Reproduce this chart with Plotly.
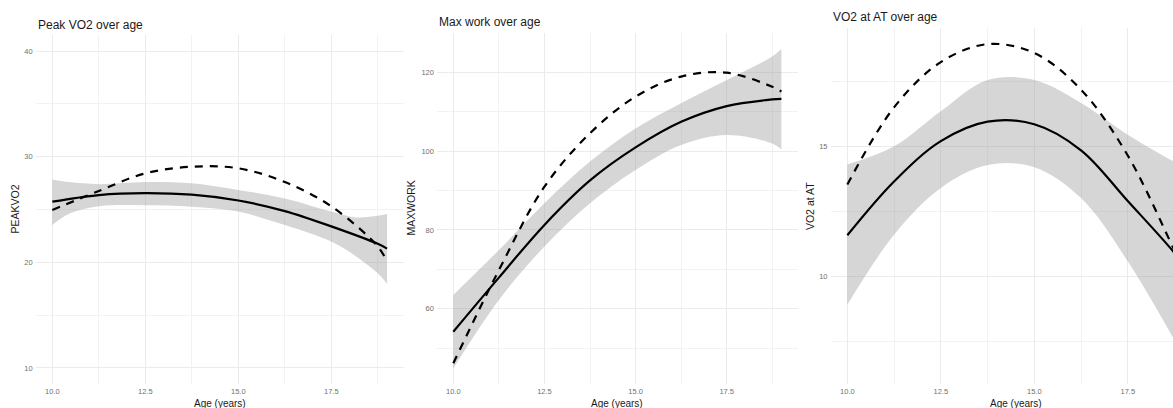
import plotly.graph_objects as go

W, H = 1173, 408

# ---------------- data ----------------
# Panel 1: Peak VO2
p1_x = [10, 11.25, 12.5, 13.75, 15, 16.25, 17.5, 18.75, 19]
p1_fit = [25.74, 26.37, 26.55, 26.4, 25.85, 24.85, 23.4, 21.75, 21.3]
p1_ref = [24.95, 26.75, 28.42, 29.05, 28.9, 27.6, 25.3, 21.5, 20.06]
p1_rib_x = [10, 10.45, 11.25, 12.5, 13.75, 15, 16.25, 17.5, 18.15, 18.75, 19]
p1_upper = [27.85, 27.6, 27.4, 27.6, 27.48, 26.85, 26.05, 24.8, 24.25, 24.4, 24.57]
p1_lower = [23.53, 24.6, 25.3, 25.4, 25.27, 24.8, 23.53, 21.96, 20.6, 18.96, 17.95]

# Panel 2: Max work
p2_x = [10, 11.25, 12.5, 13.75, 15, 16.25, 17.5, 18.75, 19]
p2_fit = [54.15, 67.9, 81.3, 92.6, 101.0, 107.5, 111.5, 113.2, 113.35]
p2_ref = [46.1, 69.8, 91.0, 104.6, 113.9, 119.0, 120.0, 116.4, 115.2]
p2_upper = [63.5, 74.9, 86.8, 97.4, 105.8, 112.2, 118.1, 124.1, 126.0]
p2_lower = [44.8, 62.2, 75.8, 86.8, 95.25, 101.6, 104.15, 102.0, 100.5]

# Panel 3: VO2 at AT
p3_x = [10, 11.25, 12.5, 13.75, 15, 16.25, 17.5, 18.75, 19]
p3_fit = [11.58, 13.65, 15.2, 15.95, 15.85, 14.85, 12.9, 10.9, 10.4]
p3_ref = [13.53, 16.5, 18.24, 18.93, 18.59, 17.18, 14.65, 11.0, 10.3]
p3_upper = [14.3, 15.0, 16.35, 17.55, 17.55, 16.67, 15.45, 14.4, 14.2]
p3_lower = [8.91, 11.6, 13.4, 14.28, 14.2, 13.01, 10.58, 7.55, 6.9]

titles = ["Peak VO2 over age", "Max work over age", "VO2 at AT over age"]
y_titles = ["PEAKVO2", "MAXWORK", "VO2 at AT"]
x_title = "Age (years)"

x_ticks = [10, 12.5, 15, 17.5]
x_ticktext = ["10.0", "12.5", "15.0", "17.5"]
x_minor = [11.25, 13.75, 16.25, 18.75]
y_ticks = [[10, 20, 30, 40], [60, 80, 100, 120], [10, 15]]
y_minor = [[15, 25, 35], [50, 70, 90, 110, 130], [7.5, 12.5, 17.5]]

# ---------------- layout geometry (pixels) ----------------
panels = [
    dict(x0=35.6, x1=403.8, y0=35.2, y1=383.8, xr=[9.55, 19.45], yr=[8.5, 41.5],
         title_y=25, ytitle_x=15, xtitle_cx=219.7),
    dict(x0=436.9, x1=797.8, y0=33.3, y1=383.8, xr=[9.55, 19.45], yr=[40.9, 130.0],
         title_y=22, ytitle_x=411, xtitle_cx=617.4),
    dict(x0=830.5, x1=1173, y0=28.3, y1=383.8, xr=[9.55, 18.71], yr=[5.87, 19.54],
         title_y=17, ytitle_x=810, xtitle_cx=1015.5),
]

data = [
    (p1_rib_x, p1_upper, p1_lower, p1_x, p1_fit, p1_ref),
    (p2_x, p2_upper, p2_lower, p2_x, p2_fit, p2_ref),
    (p3_x, p3_upper, p3_lower, p3_x, p3_fit, p3_ref),
]

FONT = "Liberation Sans, Arial, sans-serif"
GRID = "#EBEBEB"
MINOR = "#F2F2F2"
RIBBON = "rgba(153,153,153,0.4)"

fig = go.Figure()
layout = dict(
    width=W, height=H, margin=dict(l=0, r=0, t=0, b=0),
    paper_bgcolor="white", plot_bgcolor="white", showlegend=False,
    font=dict(family=FONT, color="#222222"),
)
annotations = []

for i, (p, d) in enumerate(zip(panels, data)):
    n = "" if i == 0 else str(i + 1)
    xa, ya = "x" + n, "y" + n
    rx, up, lo, fx, fit, ref = d
    fig.add_trace(go.Scatter(x=rx, y=up, mode="lines",
                             line=dict(width=0, shape="spline", smoothing=1.0),
                             hoverinfo="skip", xaxis=xa, yaxis=ya))
    fig.add_trace(go.Scatter(x=rx, y=lo, mode="lines",
                             line=dict(width=0, shape="spline", smoothing=1.0),
                             fill="tonexty", fillcolor=RIBBON, hoverinfo="skip",
                             xaxis=xa, yaxis=ya))
    fig.add_trace(go.Scatter(x=fx, y=fit, mode="lines",
                             line=dict(color="black", width=2.2, shape="spline", smoothing=1.0),
                             xaxis=xa, yaxis=ya))
    fig.add_trace(go.Scatter(x=fx, y=ref, mode="lines",
                             line=dict(color="black", width=2.2, dash="8px,7px",
                                       shape="spline", smoothing=1.0),
                             xaxis=xa, yaxis=ya))

    axcommon = dict(showline=False, zeroline=False, ticks="",
                    tickfont=dict(size=7.5, color="#707070", family=FONT),
                    showgrid=True, gridcolor=GRID, gridwidth=1)
    layout["xaxis" + n] = dict(
        axcommon, domain=[p["x0"] / W, p["x1"] / W], range=p["xr"],
        anchor=ya, tickmode="array", tickvals=x_ticks, ticktext=x_ticktext,
        minor=dict(tickvals=x_minor, showgrid=True, gridcolor=MINOR, gridwidth=0.7),
        ticklabelstandoff=2,
    )
    layout["yaxis" + n] = dict(
        axcommon, domain=[1 - p["y1"] / H, 1 - p["y0"] / H], range=p["yr"],
        anchor=xa, tickmode="array", tickvals=y_ticks[i],
        minor=dict(tickvals=y_minor[i], showgrid=True, gridcolor=MINOR, gridwidth=0.7),
        ticklabelstandoff=2,
    )
    annotations.append(dict(
        text=titles[i], xref="paper", yref="paper", x=p["x0"] / W, y=1 - p["title_y"] / H,
        xanchor="left", yanchor="middle", showarrow=False,
        font=dict(size=12, color="#1a1a1a", family=FONT)))
    annotations.append(dict(
        text=y_titles[i], xref="paper", yref="paper", x=p["ytitle_x"] / W,
        y=1 - (p["y0"] + p["y1"]) / 2 / H, xanchor="center", yanchor="middle",
        textangle=-90, showarrow=False, font=dict(size=10.5, color="#1a1a1a", family=FONT)))
    annotations.append(dict(
        text=x_title, xref="paper", yref="paper", x=p["xtitle_cx"] / W, y=1 - 403 / H,
        xanchor="center", yanchor="middle", showarrow=False,
        font=dict(size=10, color="#1a1a1a", family=FONT)))

layout["annotations"] = annotations
fig.update_layout(**layout)
fig.write_html("out.html")
